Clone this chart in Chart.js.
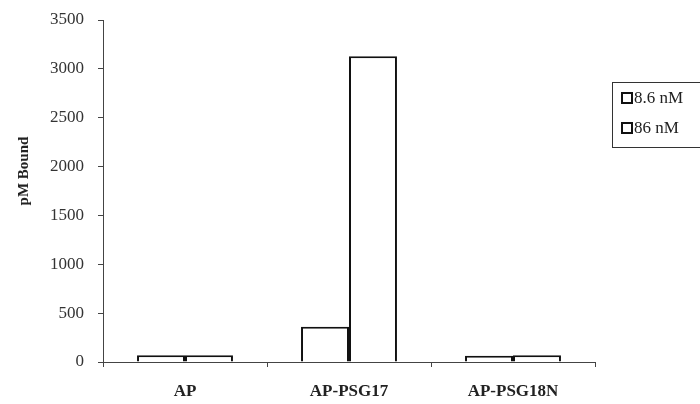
<!DOCTYPE html>
<html>
<head>
<meta charset="utf-8">
<script src="https://cdn.jsdelivr.net/npm/chart.js@4.4.0/dist/chart.umd.min.js"></script>
<style>
  html, body { margin: 0; padding: 0; background: #fff; }
  #wrap { width: 700px; height: 404px; position: relative; }
</style>
</head>
<body>
<div id="wrap"><canvas id="chart"></canvas></div>
<script>
// datos
const categorias = ['AP', 'AP-PSG17', 'AP-PSG18N'];
const serie86pM = [70, 360, 65];      // 8.6 nM
const serie86nM = [70, 3130, 70];     // 86 nM
const etiquetasSeries = ['8.6 nM', '86 nM'];
const ejeY = { min: 0, max: 3500, paso: 500 };
const tituloY = 'pM Bound';

const fuente = "'Liberation Serif', 'DejaVu Serif', serif";

// leyenda con recuadro y título del eje Y, dibujados a mano
const extras = {
  id: 'extras',
  afterDraw(chart) {
    const ctx = chart.ctx;
    const x = chart.chartArea.right + 17;
    const y = 82;
    ctx.save();
    ctx.strokeStyle = '#333';
    ctx.lineWidth = 1;
    ctx.strokeRect(x + 0.5, y + 0.5, 120, 65);
    ctx.font = '17px ' + fuente;
    ctx.textBaseline = 'middle';
    etiquetasSeries.forEach((t, i) => {
      const cy = y + 16 + i * 30;
      ctx.fillStyle = '#fff';
      ctx.strokeStyle = '#111';
      ctx.lineWidth = 2;
      ctx.fillRect(x + 10, cy - 5, 10, 10);
      ctx.strokeRect(x + 10, cy - 5, 10, 10);
      ctx.fillStyle = '#222';
      ctx.fillText(t, x + 22, cy + 1);
    });

    // título del eje Y
    ctx.translate(24, 171);
    ctx.rotate(-Math.PI / 2);
    ctx.textAlign = 'center';
    ctx.font = 'bold 15px ' + fuente;
    ctx.fillStyle = '#222';
    ctx.fillText(tituloY, 0, 0);
    ctx.restore();
  }
};

new Chart(document.getElementById('chart').getContext('2d'), {
  type: 'bar',
  data: {
    labels: categorias,
    datasets: [
      { label: etiquetasSeries[0], data: serie86pM, backgroundColor: '#fff', borderColor: '#111', borderWidth: 2 },
      { label: etiquetasSeries[1], data: serie86nM, backgroundColor: '#fff', borderColor: '#111', borderWidth: 2 }
    ]
  },
  options: {
    responsive: true,
    maintainAspectRatio: false,
    animation: false,
    categoryPercentage: 0.585,
    barPercentage: 1,
    layout: { padding: { top: 20, right: 105, left: 0, bottom: 0 } },
    plugins: { legend: { display: false }, tooltip: { enabled: false } },
    scales: {
      x: {
        offset: true,
        grid: { display: true, offset: true, drawOnChartArea: false, drawTicks: true, tickLength: 5, color: '#444' },
        border: { color: '#444', width: 1 },
        ticks: { color: '#222', font: { family: fuente, size: 17, weight: 'bold' }, padding: 14 },
        afterFit(scale) { scale.height = 42; }
      },
      y: {
        min: ejeY.min,
        max: ejeY.max,
        ticks: {
          stepSize: ejeY.paso,
          color: '#333',
          font: { family: fuente, size: 17 },
          padding: 14,
          callback: (v) => String(v)
        },
        grid: { display: true, drawOnChartArea: false, drawTicks: true, tickLength: 5, color: '#444' },
        border: { color: '#444', width: 1 },
        afterFit(scale) {
          scale.width = 103;
          scale.paddingTop = 0;
          scale.paddingBottom = 0;
        }
      }
    }
  },
  plugins: [extras]
});
</script>
</body>
</html>
